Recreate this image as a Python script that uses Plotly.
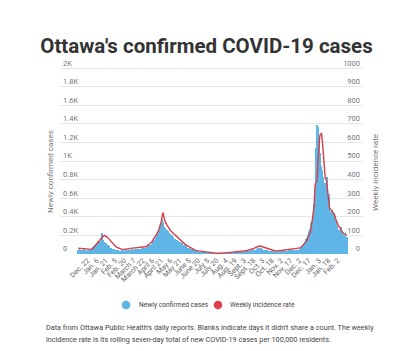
import pandas as pd
import plotly.graph_objects as go

# ---------------- data ----------------
start_date = "2020-12-07"

cases_dec_2020 = [45, 38, 52, 41, 47, 36, 33, 44, 40, 49, 35, 42, 38, 30, 37, 46, 41, 39, None, 33, 28, 55, 62, 71, 68]
cases_jan_2021 = [None, 80, 76, 92, 104, 90, 112, 122, 108, 128, 102, 138, 120, 150, 230, 146, 128, 133, 114, 104, 118, 95, 84, 99, 78, 72, 82, 65, 69, 58, 54]
cases_feb_2021 = [52, 48, 57, 44, 41, 39, 36, 45, 33, 38, 31, 34, 29, 35, 27, 40, 32, 37, 30, 42, 35, 38, 44, 36, 41, 47, 39, 43]
cases_mar_2021 = [44, 40, 48, 51, 39, 45, 47, 42, 50, 46, 38, 49, 53, 44, 48, 52, 47, 55, 58, 50, 61, 57, 63, 54, 66, 70, 62, 78, 85, 92, 88]
cases_apr_2021 = [78, 92, 85, 101, 96, 110, 124, 118, 140, 152, 147, 170, 162, 205, 226, 198, 252, 280, 261, 310, 333, 300, 376, 348, 322, 290, 268, 282, 245, 258]
cases_may_2021 = [236, 248, 221, 230, 205, 214, 196, 188, 204, 176, 182, 165, 158, 150, 149, 142, 153, 131, 138, 126, 119, 128, 110, 104, 115, 97, 92, 101, 86, 80, 88]
cases_jun_2021 = [74, 66, 70, 58, 61, 52, 55, 48, 45, 50, 42, 38, 44, 35, 31, 36, 28, 30, 25, 27, 22, 24, 19, 21, 17, 20, 15, 18, 13, 16]
cases_jul_2021 = [12, 14, 9, 11, 8, 10, 7, 9, 6, 8, 5, 7, 9, 4, 6, 5, 8, 3, 6, 4, 7, 5, 3, 6, 4, 5, 8, 4, 6, 3, 5]
cases_aug_2021 = [6, 4, 7, 5, 8, 6, 9, 7, 5, 10, 8, 11, 9, 12, 7, 13, 10, 12, 15, 9, 14, 11, 16, 13, 18, 12, 17, 15, 19, 14, 20]
cases_sep_2021 = [22, 18, 25, 21, 28, 24, 19, 30, 26, 33, 29, 36, 31, 27, 38, 34, 41, 37, 45, 40, 48, 43, 52, 47, 56, 61, 54, 66, 58, 63]
cases_oct_2021 = [57, 49, 52, 44, 47, 40, 43, 37, 41, 35, 38, 32, 36, 30, 33, 28, 31, 26, 29, 24, 27, 30, 23, 26, 22, 25, 21, 24, 27, 23, 26]
cases_nov_2021 = [28, 24, 31, 27, 33, 29, 26, 34, 30, 36, 32, 28, 37, 33, 39, 35, 31, 38, 34, 40, 36, 33, 41, 37, 35, 42, 38, 44, 40, 43]
cases_dec_2021 = [46, 52, 49, 57, 63, 72, 80, 88, 98, 110, 125, 140, 158, 176, 195, 200, 225, 250, 270, 300, 330, 360, 390, 420, 500, 540, None, 820, 1140, 1290, 1387]
cases_jan_2022 = [1362, 1300, 1250, 1190, 1085, 950, 880, 903, 760, 831, 690, 650, 760, 540, 620, 831, 480, 520, 580, 650, 410, 450, 380, 473, 350, 390, 440, 310, 333, 280, 366]
cases_feb_2022 = [300, 258, 220, 258, 190, 240, 210, 294, 175, 230, 160, 204, 150, 190, 240, 140, 186]

# weekly incidence rate (per 100,000), read at days offset from start_date
rate_day = [0, 3, 6, 10, 14, 18, 21, 23, 25, 28, 30, 33, 36, 39, 41, 43, 45, 47, 49, 52, 55, 58, 60, 63, 66, 69, 71, 74, 77, 80,
            82, 85, 87, 91, 95, 100, 104, 107, 109, 112, 114, 117, 120, 123, 125, 128, 131, 133, 135, 137, 138, 139, 141, 144, 147,
            150, 152, 155, 158, 160, 163, 166, 169, 172, 174, 177, 180, 183, 185, 188, 190, 195, 199, 205, 210, 215, 220, 225, 231,
            238, 243, 247, 252, 258, 264, 270, 275, 280, 285, 289, 291, 294, 296, 299, 302, 304, 308, 313, 318, 324, 329, 334, 340,
            345, 350, 356, 361, 364, 367, 369, 371, 373, 374, 376, 378, 380, 382, 383, 384, 385, 386, 388, 389, 390, 391, 392, 393,
            394, 395, 396, 397, 398, 399, 400, 401, 402, 404, 405, 406, 407, 408, 409, 411, 413, 415, 417, 419, 421, 423, 425, 427,
            429, 431, 433, 435, 437]
rate_val = [31, 30, 28, 28, 27, 26, 25, 28, 36, 48, 57, 68, 79, 90, 97, 99, 97, 91, 84, 72, 61, 50, 43, 36, 31, 27, 25, 25, 25, 27,
            28, 30, 31, 32, 32, 34, 36, 38, 39, 44, 48, 56, 66, 80, 93, 110, 129, 150, 174, 210, 222, 205, 178, 158, 138,
            126, 120, 110, 102, 94, 84, 75, 66, 58, 52, 45, 39, 34, 31, 25, 21, 17, 15, 11, 8, 7, 5, 4, 4,
            5, 6, 8, 10, 12, 13, 16, 19, 22, 28, 35, 39, 42, 43, 40, 34, 31, 27, 22, 19, 16, 18, 21, 23,
            25, 26, 28, 33, 40, 50, 57, 68, 80, 88, 105, 120, 160, 200, 225, 260, 350, 380, 390, 410, 480, 545, 605, 630,
            645, 650, 648, 620, 575, 530, 470, 440, 410, 395, 360, 340, 305, 275, 250, 238, 230, 222, 212, 190, 168, 155, 145, 132,
            122, 113, 107, 103, 100]

tick_dates = ["2020-12-07", "2020-12-22", "2021-01-06", "2021-01-21", "2021-02-05", "2021-02-20", "2021-03-07",
              "2021-03-22", "2021-04-06", "2021-04-21", "2021-05-06", "2021-05-21", "2021-06-05", "2021-06-20",
              "2021-07-05", "2021-07-20", "2021-08-04", "2021-08-19", "2021-09-03", "2021-09-18", "2021-10-03",
              "2021-10-18", "2021-11-02", "2021-11-17", "2021-12-02", "2021-12-17", "2022-01-03", "2022-01-18",
              "2022-02-02", "2022-02-17"]
tick_labels = ["Dec. 7", "Dec. 22", "Jan. 6", "Jan. 21", "Feb. 5", "Feb. 20", "March 7", "March 22", "April 6",
               "April 21", "May 6", "May 21", "June 5", "June 20", "July 5", "July 20", "Aug. 4", "Aug. 19",
               "Sept. 3", "Sept. 18", "Oct. 3", "Oct. 18", "Nov. 2", "Nov. 17", "Dec. 2", "Dec. 17", "Jan. 3",
               "Jan. 18", "Feb. 2", "Feb. 17"]

left_ticks = [0, 200, 400, 600, 800, 1000, 1200, 1400, 1600, 1800, 2000]
left_labels = ["0", "0.2K", "0.4K", "0.6K", "0.8K", "1K", "1.2K", "1.4K", "1.6K", "1.8K", "2K"]
right_ticks = [0, 100, 200, 300, 400, 500, 600, 700, 800, 900, 1000]

series_names = ["Newly confirmed cases", "Weekly incidence rate"]

# ---------------- build ----------------
cases = (cases_dec_2020 + cases_jan_2021 + cases_feb_2021 + cases_mar_2021 + cases_apr_2021 + cases_may_2021 +
         cases_jun_2021 + cases_jul_2021 + cases_aug_2021 + cases_sep_2021 + cases_oct_2021 + cases_nov_2021 +
         cases_dec_2021 + cases_jan_2022 + cases_feb_2022)
t0 = pd.Timestamp(start_date)
case_dates = pd.date_range(t0, periods=len(cases), freq="D")
rate_dates = [t0 + pd.Timedelta(days=d) for d in rate_day]

BLUE = "#5fb6e6"
RED = "#d2404a"
FONT = "Roboto"

W, H = 413, 351
L, R, T, B = 60, 50, 57, 97
pw, ph = W - L - R, H - T - B
YMAX = 2120


def px_x(x):
    return (x - L) / pw


def px_y(y):
    return (H - B - y) / ph


fig = go.Figure()
fig.add_trace(go.Bar(x=case_dates, y=cases, marker=dict(color=BLUE, line=dict(width=0)),
                     name=series_names[0], showlegend=False, yaxis="y"))
fig.add_trace(go.Scatter(x=rate_dates, y=rate_val, mode="lines", line=dict(color=RED, width=1.4),
                         name=series_names[1], showlegend=False, yaxis="y2"))

x_start = t0 - pd.Timedelta(hours=int(29.8 * 24))
x_end = t0 + pd.Timedelta(days=len(cases) - 1) + pd.Timedelta(hours=int(26.5 * 24))

# manual legend (circle symbols close to text, as in the original)
legend_items = [(126, "#5ab4e8", 136.5), (218, "#df3f4c", 227.5)]
shapes = []
annotations = []
for (cx, col, tx), name in zip(legend_items, series_names):
    shapes.append(dict(type="circle", xref="paper", yref="paper", x0=px_x(cx - 4.3), x1=px_x(cx + 4.3),
                       y0=px_y(305 + 4.3), y1=px_y(305 - 4.3), fillcolor=col, line=dict(width=0)))
    annotations.append(dict(text=name, xref="paper", yref="paper", x=px_x(tx), y=px_y(305), showarrow=False,
                            xanchor="left", yanchor="middle", font=dict(size=6.7, color="#444")))

annotations += [
    dict(text="Newly confirmed cases", xref="paper", yref="paper", x=px_x(50), y=px_y(172),
         textangle=-90, showarrow=False, font=dict(size=8, color="#777"), xanchor="center", yanchor="middle"),
    dict(text="Weekly incidence rate", xref="paper", yref="paper", x=px_x(375.5), y=px_y(172.5),
         textangle=-90, showarrow=False, font=dict(size=8, color="#777"), xanchor="center", yanchor="middle"),
    dict(text="Data from Ottawa Public Health's daily reports. Blanks indicate days it didn't share a count. The weekly",
         xref="paper", yref="paper", x=px_x(44), y=px_y(327), showarrow=False, xanchor="left",
         yanchor="middle", font=dict(size=7.25, color="#444")),
    dict(text="incidence rate is its rolling seven-day total of new COVID-19 cases per 100,000 residents.",
         xref="paper", yref="paper", x=px_x(44), y=px_y(339), showarrow=False, xanchor="left",
         yanchor="middle", font=dict(size=7.25, color="#444")),
]

fig.update_layout(
    width=W, height=H,
    margin=dict(l=L, r=R, t=T, b=B, autoexpand=False),
    paper_bgcolor="white", plot_bgcolor="white",
    font=dict(family=FONT, color="#555"),
    bargap=0,
    showlegend=False,
    title=dict(text="<b>Ottawa's confirmed COVID-19 cases</b>", x=0.5, xanchor="center",
               y=(H - 46) / H, yanchor="middle", font=dict(size=20.5, color="#333", family=FONT)),
    xaxis=dict(type="date", range=[x_start, x_end], tickmode="array", tickvals=tick_dates, ticktext=tick_labels,
               tickangle=-45, tickfont=dict(size=7.2, color="#666"), showgrid=False, zeroline=False,
               showline=False, ticks="", ticklabeloverflow="allow", ticklabelstep=1),
    yaxis=dict(range=[0, YMAX], tickvals=left_ticks, ticktext=left_labels, ticklabelposition="inside top",
               tickfont=dict(size=7.5, color="#777"), gridcolor="#e6e6e6", gridwidth=1, zeroline=False,
               showline=False, ticks=""),
    yaxis2=dict(range=[0, YMAX / 2], tickvals=right_ticks, overlaying="y", side="right",
                ticklabelposition="inside top", tickfont=dict(size=7.5, color="#777"), showgrid=False,
                zeroline=False, showline=False, ticks=""),
    shapes=shapes,
    annotations=annotations,
)

fig.write_html("out.html")
